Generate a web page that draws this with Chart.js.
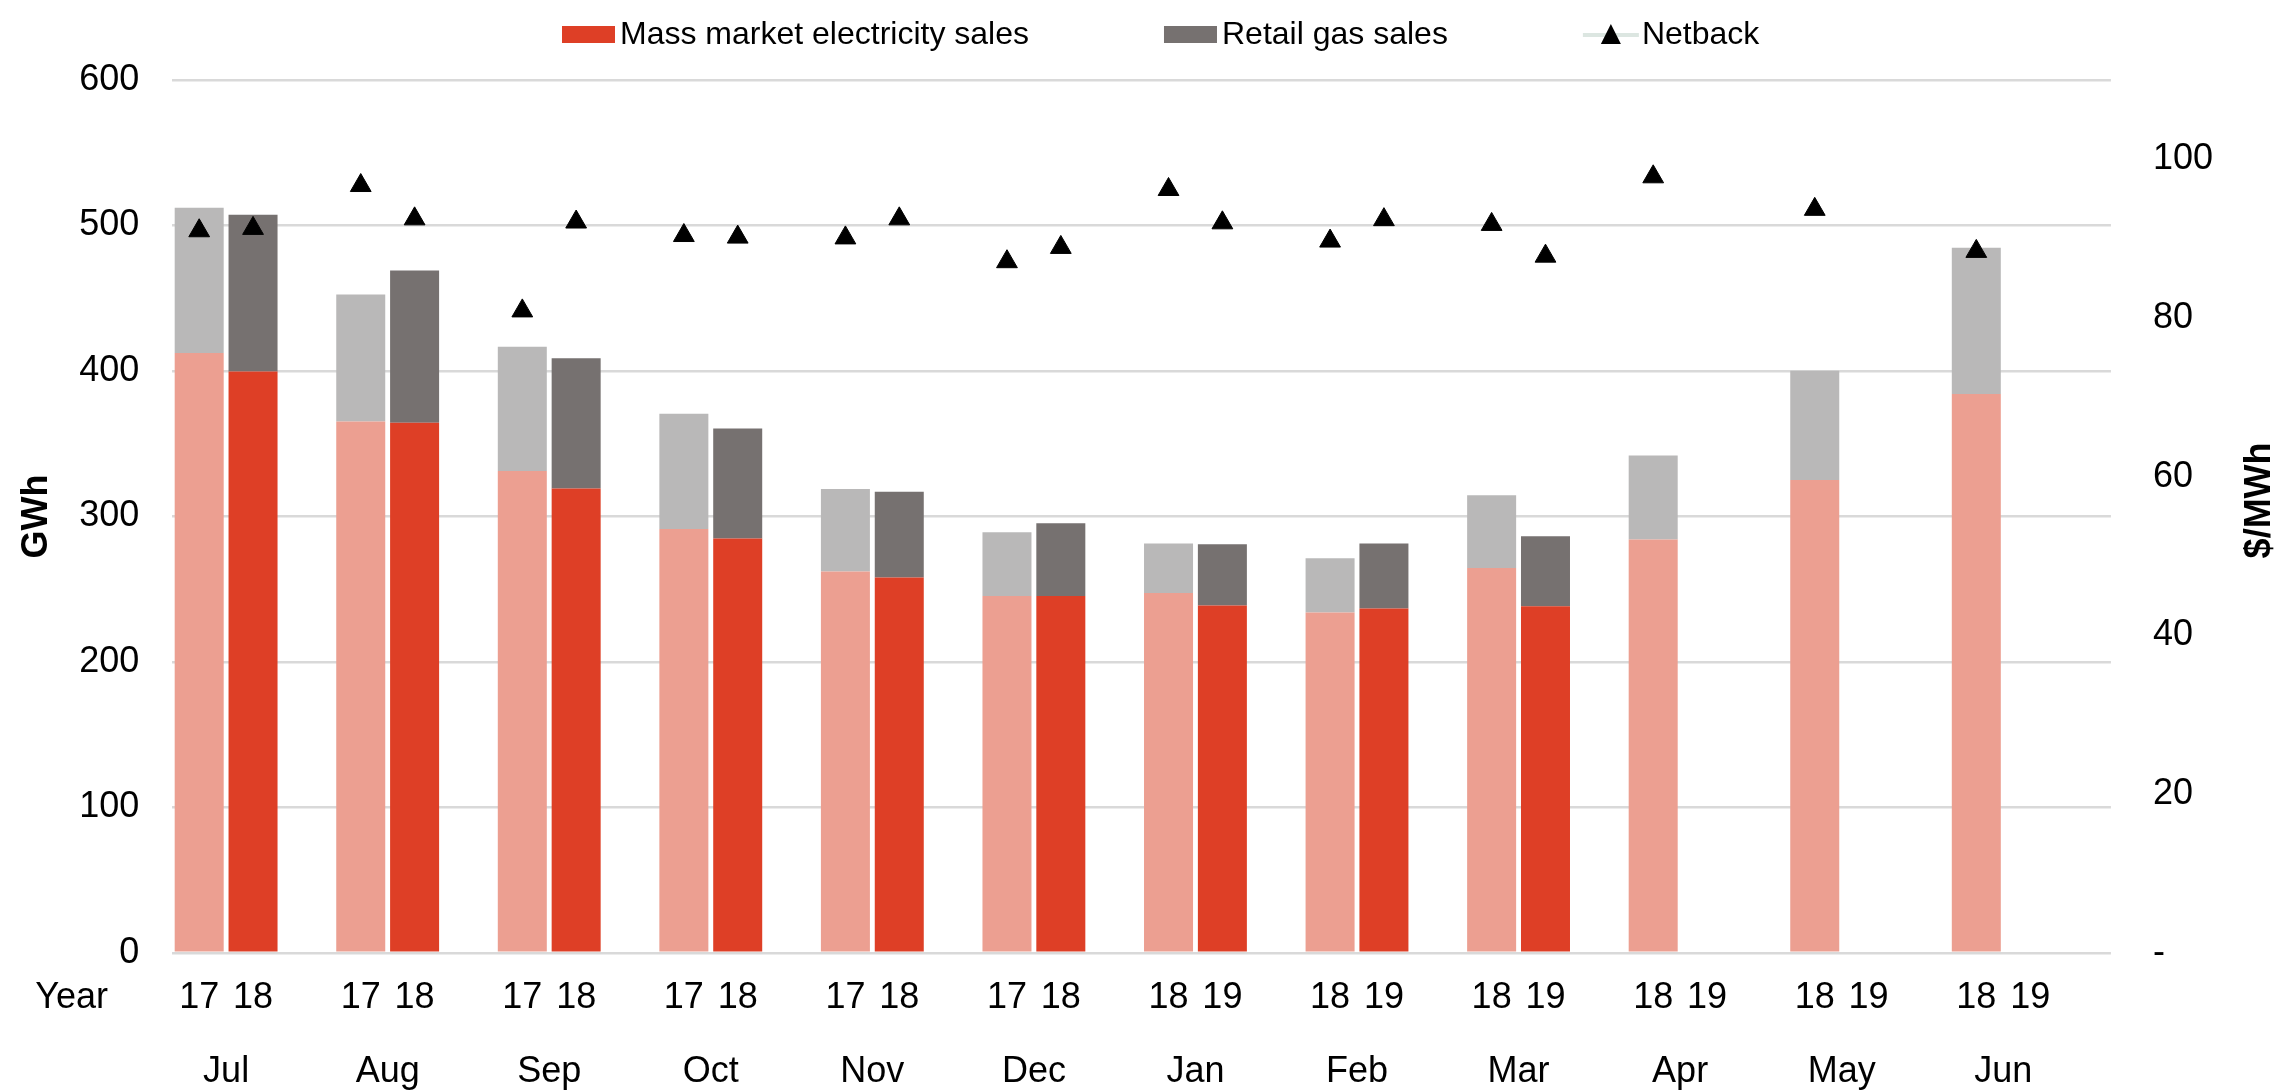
<!DOCTYPE html>
<html>
<head>
<meta charset="utf-8">
<script src="https://cdn.jsdelivr.net/npm/chart.js@4"></script>
<style>
  html, body { margin: 0; padding: 0; background: #fff; }
</style>
</head>
<body>
<canvas id="chart" width="2280" height="1092"></canvas>
<script>
// months and year labels (prior year, current year)
const months = ["Jul", "Aug", "Sep", "Oct", "Nov", "Dec", "Jan", "Feb", "Mar", "Apr", "May", "Jun"];
const yearPrior = ["17", "17", "17", "17", "17", "17", "18", "18", "18", "18", "18", "18"];
const yearCurr = ["18", "18", "18", "18", "18", "18", "19", "19", "19", "19", "19", "19"];

// GWh
const elecPrior = [412.3, 365.2, 331.2, 291.3, 262.1, 245.3, 247.3, 234.0, 264.6, 284.1, 325.0, 384.1];
const gasPrior = [99.9, 87.3, 85.4, 79.2, 56.7, 43.8, 34.1, 37.3, 49.9, 57.7, 75.1, 100.6];
const elecCurr = [399.6, 364.4, 319.2, 284.8, 258.0, 245.3, 238.8, 236.7, 238.3, null, null, null];
const gasCurr = [107.8, 104.6, 89.5, 75.6, 58.9, 50.0, 42.1, 44.7, 48.1, null, null, null];

// $/MWh
const netbackPrior = [91.0, 96.7, 80.9, 90.4, 90.1, 87.1, 96.2, 89.7, 91.8, 97.8, 93.7, 88.4];
const netbackCurr = [91.3, 92.5, 92.1, 90.2, 92.5, 88.9, 92.0, 92.4, 87.8, null, null, null];

const gwhTicks = [0, 100, 200, 300, 400, 500, 600];
const mwhTicks = [0, 20, 40, 60, 80, 100];

const RED = "#DE3F26", SALMON = "#EC9F91", DARKGREY = "#767170", LIGHTGREY = "#B9B8B8";
const FONT = "'Liberation Sans', Arial, sans-serif";

// three slots per month: prior year, current year, empty
const slotLabels = months.flatMap((m, i) => [yearPrior[i], yearCurr[i], ""]);
const spread = (a, b) => months.flatMap((m, i) => [a[i], b[i], null]);
const slotColors = (light, dark) => months.flatMap(() => [light, dark, dark]);

const legendItems = [
  { text: "Mass market electricity sales", color: RED },
  { text: "Retail gas sales", color: DARKGREY },
  { text: "Netback", marker: true }
];

const YEAR_PAD = 24;

const extras = {
  id: "extras",
  afterDraw(chart) {
    const ctx = chart.ctx;
    const area = chart.chartArea;
    ctx.save();
    // legend
    ctx.font = "32px " + FONT;
    ctx.textBaseline = "middle";
    ctx.textAlign = "left";
    let x = 562;
    const ly = 35;
    legendItems.forEach(item => {
      if (item.marker) {
        ctx.fillStyle = "#DCE6E1";
        ctx.fillRect(x, ly - 2, 56, 4);
        ctx.fillStyle = "#000";
        ctx.beginPath();
        ctx.moveTo(x + 28, ly - 11);
        ctx.lineTo(x + 38, ly + 9);
        ctx.lineTo(x + 18, ly + 9);
        ctx.closePath();
        ctx.fill();
        x += 59;
      } else {
        ctx.fillStyle = item.color;
        ctx.fillRect(x, ly - 9, 53, 17);
        x += 58;
      }
      ctx.fillStyle = "#000";
      ctx.fillText(item.text, x, ly);
      x += ctx.measureText(item.text).width + 135;
    });
    // "Year" row label
    ctx.font = "36px " + FONT;
    ctx.fillText("Year", area.left - 137, chart.scales.x.top + YEAR_PAD + 21.6);
    // right axis title, reading bottom to top
    ctx.font = "bold 36px " + FONT;
    ctx.textAlign = "center";
    ctx.translate(chart.width - 20, (area.top + area.bottom) / 2 - 16);
    ctx.rotate(-Math.PI / 2);
    ctx.fillText("$/MWh", 0, 0);
    ctx.restore();
  }
};

new Chart(document.getElementById("chart"), {
  type: "bar",
  data: {
    labels: slotLabels,
    datasets: [
      {
        type: "line",
        label: "Netback",
        data: spread(netbackPrior, netbackCurr),
        yAxisID: "y1",
        showLine: false,
        pointStyle: "triangle",
        pointRadius: 12,
        pointBackgroundColor: "#000",
        pointBorderColor: "#000",
        pointBorderWidth: 1,
        order: 0
      },
      {
        label: "Mass market electricity sales",
        data: spread(elecPrior, elecCurr),
        backgroundColor: slotColors(SALMON, RED),
        order: 1
      },
      {
        label: "Retail gas sales",
        data: spread(gasPrior, gasCurr),
        backgroundColor: slotColors(LIGHTGREY, DARKGREY),
        order: 1
      }
    ]
  },
  options: {
    responsive: false,
    animation: false,
    layout: { padding: { top: 80, left: 0, right: 25, bottom: -8 } },
    categoryPercentage: 1,
    barPercentage: 0.91,
    plugins: {
      legend: { display: false },
      tooltip: { enabled: false }
    },
    scales: {
      x: {
        stacked: true,
        weight: 0,
        grid: { display: false, drawTicks: false },
        border: { display: false },
        ticks: { autoSkip: false, maxRotation: 0, padding: YEAR_PAD, color: "#000", font: { family: FONT, size: 36 } }
      },
      xMonth: {
        type: "linear",
        position: "bottom",
        weight: 1,
        offset: false,
        min: -0.5,
        max: slotLabels.length - 0.5,
        grid: { display: false, drawTicks: false },
        border: { display: false },
        afterBuildTicks: axis => { axis.ticks = months.map((m, i) => ({ value: 3 * i + 0.5 })); },
        ticks: {
          autoSkip: false, maxRotation: 0, padding: 6.4, color: "#000",
          font: { family: FONT, size: 36 },
          callback: (v, i) => months[i]
        }
      },
      y: {
        stacked: true,
        min: gwhTicks[0],
        max: gwhTicks[gwhTicks.length - 1],
        grid: { color: "#D9D9D9", lineWidth: 2.5, drawTicks: false },
        border: { display: false },
        ticks: { stepSize: 100, padding: 33, color: "#000", font: { family: FONT, size: 36 } },
        title: {
          display: true, text: "GWh", color: "#000",
          font: { family: FONT, size: 36, weight: "bold" },
          padding: { top: 15, bottom: -12 }
        }
      },
      y1: {
        position: "right",
        min: mwhTicks[0],
        max: 110,
        grid: { display: false, drawTicks: false },
        border: { display: false },
        ticks: {
          stepSize: 20, includeBounds: false, padding: 42, color: "#000",
          font: { family: FONT, size: 36 },
          callback: v => (v === 0 ? "-" : v)
        }
      }
    }
  },
  plugins: [extras]
});
</script>
</body>
</html>
